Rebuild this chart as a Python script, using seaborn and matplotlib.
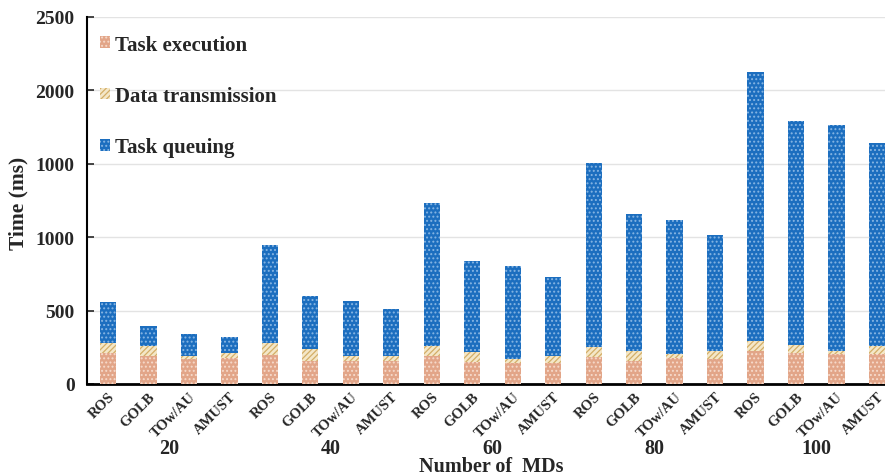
import matplotlib

matplotlib.use("Agg")

import matplotlib.pyplot as plt
import pandas as pd
import seaborn as sns
from matplotlib.patches import Patch

METHODS = ["ROS", "GOLB", "TOw/AU", "AMUST"]
MD_COUNTS = ["20", "40", "60", "80", "100"]

# time per component (ms), bars ordered group by group
EXEC_MS = [211, 193, 170, 177, 200, 159, 159, 155, 191, 150, 143, 143,
           182, 159, 175, 170, 223, 211, 204, 204]
TRANS_MS = [68, 68, 19, 34, 79, 77, 32, 36, 68, 70, 27, 48,
            68, 68, 29, 53, 68, 57, 23, 57]
QUEUE_MS = [277, 136, 151, 107, 670, 361, 374, 318, 976, 618, 636, 536,
            1255, 931, 915, 794, 1836, 1525, 1537, 1380]

Y_TICKS = [0, 500, 1000, 1500, 2000, 2500]
Y_TICK_LABELS = ["0", "500", "1000", "1000", "2000", "2500"]

EXEC_COLOR, EXEC_HATCH = "#E2A588", "#F6DACB"
TRANS_COLOR, TRANS_HATCH = "#F4E7C8", "#D3AE66"
QUEUE_COLOR, QUEUE_HATCH = "#1C6EBF", "#86B5E3"


def build_frame() -> pd.DataFrame:
    rows = []
    for g, md in enumerate(MD_COUNTS):
        for m, method in enumerate(METHODS):
            i = g * len(METHODS) + m
            rows.append({
                "bar": f"{md}-{method}",
                "method": method,
                "exec": EXEC_MS[i],
                "exec_trans": EXEC_MS[i] + TRANS_MS[i],
                "total": EXEC_MS[i] + TRANS_MS[i] + QUEUE_MS[i],
            })
    return pd.DataFrame(rows)


def main() -> None:
    sns.set_theme(style="white")
    plt.rcParams["font.family"] = ["Liberation Serif", "DejaVu Serif"]
    plt.rcParams["font.weight"] = "bold"
    plt.rcParams["hatch.linewidth"] = 0.9

    df = build_frame()
    order = list(df["bar"])

    fig = plt.figure(figsize=(8.85, 4.77), dpi=100)
    ax = fig.add_axes([87 / 885, 1 - 385 / 477, 1 - 87 / 885, 367 / 477])

    # stacked look: draw cumulative totals back to front
    layers = [
        ("total", QUEUE_COLOR, QUEUE_HATCH, "...."),
        ("exec_trans", TRANS_COLOR, TRANS_HATCH, "//////"),
        ("exec", EXEC_COLOR, EXEC_HATCH, "...."),
    ]
    for col, face, hatch_color, hatch in layers:
        sns.barplot(data=df, x="bar", y=col, order=order, color=face,
                    saturation=1, width=0.4, errorbar=None, hatch=hatch,
                    edgecolor=hatch_color, linewidth=0, ax=ax, zorder=3)

    ax.set_xlim(-0.52, 19.2)
    ax.set_ylim(0, 2500)
    ax.set_yticks(Y_TICKS)
    ax.set_yticklabels(Y_TICK_LABELS, fontsize=14, fontweight="bold")
    ax.set_xticks(range(len(order)))
    ax.set_xticklabels(list(df["method"]), rotation=45, ha="right",
                       rotation_mode="anchor", fontsize=10.5, fontweight="bold")
    ax.tick_params(axis="x", length=0, pad=4)
    ax.tick_params(axis="y", direction="in", length=5, width=1.2, pad=9,
                   left=True)
    ax.yaxis.grid(True, color="#E3E3E3", linewidth=1, zorder=0)
    ax.set_axisbelow(True)
    ax.set_xlabel("")
    ax.set_ylabel("")

    for side in ["top", "right"]:
        ax.spines[side].set_visible(False)
    ax.spines["left"].set_color("black")
    ax.spines["left"].set_linewidth(1.5)
    ax.spines["bottom"].set_color("black")
    ax.spines["bottom"].set_linewidth(2)

    trans = ax.get_xaxis_transform()
    for g, md in enumerate(MD_COUNTS):
        ax.text(g * 4 + 1.5, -0.174, md, transform=trans, ha="center",
                va="center", fontsize=14.5, fontweight="bold")
    ax.text(0.507, -0.237, "Number of  MDs", transform=ax.transAxes,
            ha="center", va="baseline", fontsize=14.5, fontweight="bold")
    fig.text(18 / 885, 1 - 203 / 477, "Time (ms)", rotation=90, ha="center",
             va="center", fontsize=15.5, fontweight="bold")

    handles = [
        Patch(facecolor=EXEC_COLOR, edgecolor=EXEC_HATCH, hatch="....", linewidth=0),
        Patch(facecolor=TRANS_COLOR, edgecolor=TRANS_HATCH, hatch="//////", linewidth=0),
        Patch(facecolor=QUEUE_COLOR, edgecolor=QUEUE_HATCH, hatch="....", linewidth=0),
    ]
    labels = ["Task execution", "Data transmission", "Task queuing"]
    ax.legend(handles, labels, loc="upper left", bbox_to_anchor=(0.016, 0.952),
              frameon=False, borderpad=0, borderaxespad=0,
              handlelength=0.5, handleheight=0.5,
              handletextpad=0.25, labelspacing=1.5,
              prop={"size": 15, "weight": "bold"})

    fig.savefig("out.png", dpi=100)
    plt.close(fig)


if __name__ == "__main__":
    main()
